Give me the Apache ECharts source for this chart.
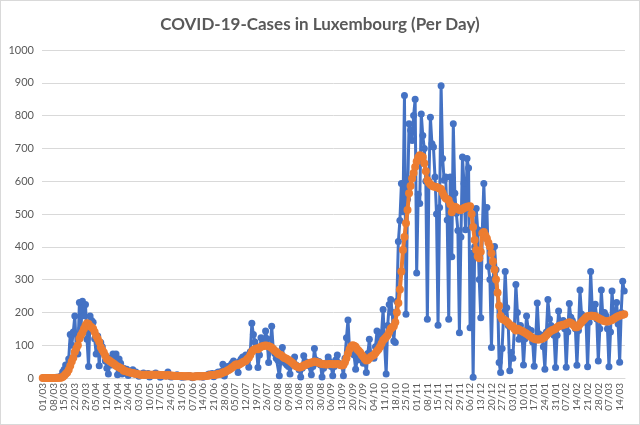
<!DOCTYPE html>
<html>
<head>
<meta charset="utf-8">
<script src="https://cdn.jsdelivr.net/npm/echarts@6/dist/echarts.min.js"></script>
<style>
html,body{margin:0;padding:0;background:#fff;}
#chart{width:640px;height:425px;box-sizing:border-box;border:1px solid #d9d9d9;}
</style>
</head>
<body>
<div id="chart"></div>
<script>
// Daily new cases, 01/03/2020 .. 17/03/2021 (one row per week, Sunday first)
const dailyCases = [
  0,0,0,0,0,1,0,
  1,0,2,1,4,5,18,
  26,40,35,58,133,100,140,
  189,88,73,230,150,234,190,
  224,118,35,189,175,170,120,
  73,128,37,108,95,75,52,
  30,12,60,40,73,55,73,
  10,58,45,12,30,20,27,
  8,15,20,25,12,18,10,
  5,10,12,15,8,10,14,
  3,8,10,12,15,9,11,
  2,5,8,10,6,18,7,
  3,4,6,8,10,5,7,
  2,4,3,6,5,8,4,
  1,3,6,5,8,4,7,
  2,6,8,10,12,9,14,
  4,10,15,18,12,20,42,
  6,20,35,30,38,45,52,
  40,35,17,50,58,64,55,
  70,60,33,80,167,133,110,
  95,32,70,123,100,110,143,
  120,47,85,158,90,75,60,
  55,7,50,93,60,45,40,
  35,12,40,45,64,40,35,
  25,3,30,68,50,45,38,
  40,10,35,90,55,45,50,
  40,3,30,45,40,64,50,
  35,7,35,55,70,45,40,
  38,7,60,123,177,88,90,
  88,70,27,55,75,60,55,
  45,58,17,75,118,70,65,
  60,95,143,110,120,138,209,
  100,12,160,224,239,200,113,
  108,234,416,480,593,507,861,
  194,545,775,755,724,800,850,
  320,560,532,805,739,700,600,
  179,600,795,714,704,613,500,
  161,520,891,669,603,613,482,
  179,613,370,775,563,502,450,
  138,430,674,593,452,669,640,
  153,380,2,400,517,452,300,
  184,450,593,446,520,340,300,
  93,280,401,330,260,47,17,
  90,200,325,214,160,22,78,
  60,150,285,200,118,160,140,
  40,120,189,150,130,145,110,
  36,120,229,135,120,130,95,
  27,140,239,180,160,150,130,
  32,130,204,170,165,175,150,
  33,140,227,185,175,165,150,
  39,145,268,195,180,185,170,
  34,170,325,215,200,225,180,
  52,150,268,185,200,190,150,
  34,140,265,195,180,230,165,
  48,200,295,265
];

// 7-day average (rows of 10 days)
const weeklyAverage = [
  0,0,0,0,0,0,0,0,0,0,
  1,1,1,3,7,12,17,25,37,50,
  62,79,90,100,120,130,139,150,160,167,
  165,158,155,150,140,128,120,110,94,85,
  78,68,58,55,52,48,45,42,37,35,
  33,30,28,22,21,20,18,17,16,15,
  14,13,12,11,10,10,10,10,10,10,
  10,10,10,10,10,10,10,9,9,9,
  8,8,9,8,8,7,7,6,6,6,
  6,6,5,5,5,5,5,5,4,4,
  5,5,5,5,5,5,6,6,7,8,
  9,9,9,10,11,12,13,14,17,18,
  20,23,25,28,32,35,40,42,40,42,
  45,48,50,52,58,62,70,80,85,88,
  90,88,92,95,97,98,99,98,97,95,
  92,88,83,80,75,72,70,66,62,60,
  58,55,52,48,44,40,36,34,32,33,
  35,38,40,42,44,46,47,48,50,49,
  48,46,44,43,42,42,41,42,43,43,
  42,42,42,43,42,40,38,40,48,60,
  75,88,95,100,98,95,88,83,78,70,
  65,58,53,55,60,65,68,70,76,82,
  88,95,105,115,120,125,130,140,150,155,
  158,170,200,229,270,325,390,430,472,512,
  563,585,608,625,643,660,672,679,677,674,
  655,630,603,595,590,586,584,583,582,580,
  578,576,565,555,548,545,542,530,505,515,
  522,520,515,512,512,515,518,520,522,523,
  524,500,460,421,390,371,365,385,441,445,
  435,425,412,400,380,355,330,300,260,220,
  189,180,178,175,172,168,162,158,158,150,
  145,150,148,145,143,140,138,135,132,128,
  125,122,120,118,117,117,118,120,122,125,
  130,135,140,143,146,148,150,155,158,160,
  160,162,163,165,168,170,168,165,160,155,
  155,158,165,170,175,180,185,188,189,190,
  190,189,188,185,183,180,178,175,174,172,
  172,174,175,177,180,183,186,188,190,192,
  193,194
];

const startDate = [2020, 2, 1]; // 1 March 2020
const labelEvery = 7;           // one tick label per week
const yTicks = { min: 0, max: 1000, interval: 100 };

const categories = [];
for (let i = 0; i < dailyCases.length; i++) {
  const d = new Date(Date.UTC(startDate[0], startDate[1], startDate[2] + i));
  const dd = String(d.getUTCDate()).padStart(2, '0');
  const mm = String(d.getUTCMonth() + 1).padStart(2, '0');
  categories.push(dd + '/' + mm);
}

const chart = echarts.init(document.getElementById('chart'), null, { renderer: 'canvas' });
chart.setOption({
  animation: false,
  backgroundColor: '#ffffff',
  title: {
    text: 'COVID-19-Cases in Luxembourg (Per Day)',
    left: 'center',
    top: 10,
    textStyle: { fontFamily: 'Lato', fontWeight: 'bold', fontSize: 17, color: '#595959' }
  },
  grid: { left: 41, right: 14, top: 49, bottom: 46, containLabel: false },
  xAxis: {
    type: 'category',
    data: categories,
    boundaryGap: true,
    axisLine: { show: true, lineStyle: { color: '#d9d9d9', width: 1 } },
    axisTick: { show: false },
    axisLabel: {
      interval: function (index) { return index % labelEvery === 0; },
      rotate: 90,
      fontSize: 10,
      color: '#595959',
      fontFamily: 'Lato',
      margin: 5,
      hideOverlap: false,
      showMinLabel: true,
      showMaxLabel: true
    },
    splitLine: { show: false }
  },
  yAxis: {
    type: 'value',
    min: yTicks.min,
    max: yTicks.max,
    interval: yTicks.interval,
    axisLine: { show: false },
    axisTick: { show: false },
    axisLabel: {
      fontSize: 11, color: '#595959', fontFamily: 'Lato', margin: 8,
      formatter: function (v) { return String(v); }
    },
    splitLine: { lineStyle: { color: '#d9d9d9', width: 1 } }
  },
  series: [
    {
      name: 'Cases',
      type: 'line',
      data: dailyCases,
      showAllSymbol: true,
      symbol: 'circle',
      symbolSize: 7,
      lineStyle: { color: '#4472C4', width: 3 },
      itemStyle: { color: '#4472C4' },
      z: 2
    },
    {
      name: '7-day average',
      type: 'line',
      data: weeklyAverage,
      showAllSymbol: true,
      symbol: 'circle',
      symbolSize: 8,
      lineStyle: { color: '#ED7D31', width: 4 },
      itemStyle: { color: '#ED7D31' },
      z: 3
    }
  ]
});
</script>
</body>
</html>
